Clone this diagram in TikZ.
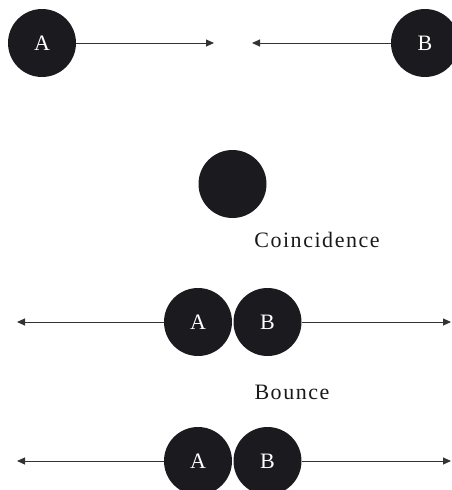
\documentclass[tikz,border=0pt]{standalone}
\usepackage{fontspec}
\setmainfont{Liberation Serif}
\usetikzlibrary{arrows.meta}
\definecolor{ball}{HTML}{1B1A1F}
\tikzset{
  ball/.style={circle,fill=ball,minimum size=68pt,inner sep=0pt,text=white,font=\fontsize{22}{24}\selectfont},
  lbl/.style={font=\addfontfeatures{LetterSpace=7}\fontsize{22}{24}\selectfont,text=black!90},
  mv/.style={draw=black!80,line width=1pt,-{Triangle[length=8pt,width=7pt]}}
}
\begin{document}
\begin{tikzpicture}[x=1pt,y=-1pt]
\useasboundingbox (0,0) rectangle (451,490);
% top row
\node[ball] (a1) at (42,43) {A};
\node[ball] (b1) at (425,43) {B};
\coordinate (t1) at (214,43);
\coordinate (t2) at (252,43);
\draw[mv] (a1) -- (t1);
\draw[mv] (b1) -- (t2);
% coincidence
\node[ball] (c) at (232.5,184) {};
\node[lbl] (lc) at (317,240) {Coincidence};
% bounce row 1
\node[ball] (a2) at (198,322) {A};
\node[ball] (b2) at (267.5,322) {B};
\coordinate (l2) at (17,322);
\coordinate (r2) at (451,322);
\draw[mv] (a2) -- (l2);
\draw[mv] (b2) -- (r2);
\node[lbl] (lb) at (292,392) {Bounce};
% bounce row 2
\node[ball] (a3) at (198,461) {A};
\node[ball] (b3) at (267.5,461) {B};
\coordinate (l3) at (17,461);
\coordinate (r3) at (451,461);
\draw[mv] (a3) -- (l3);
\draw[mv] (b3) -- (r3);
\end{tikzpicture}
\end{document}
